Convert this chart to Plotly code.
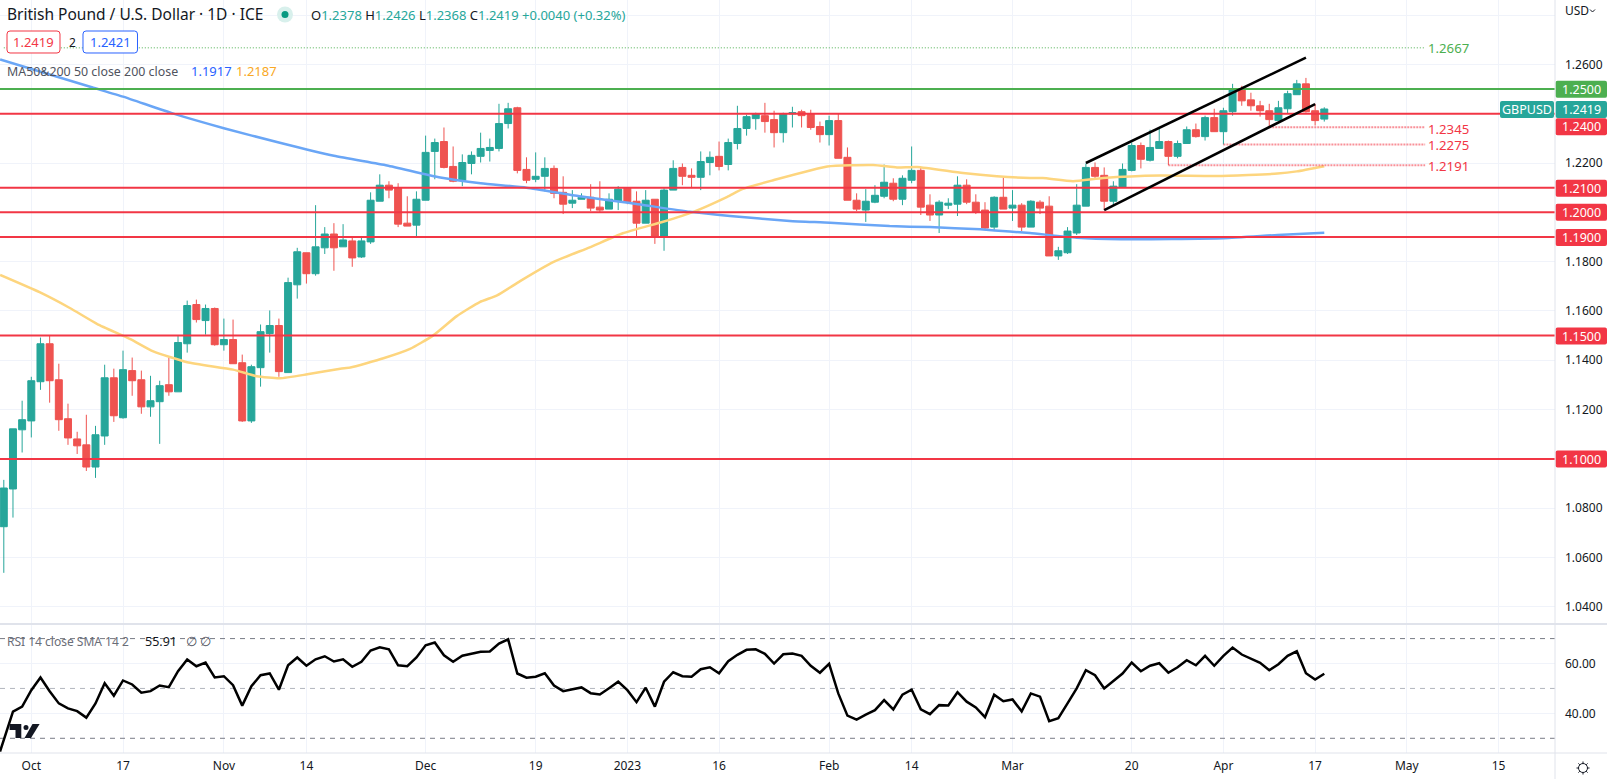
import math
import plotly.graph_objects as go

# ---------- data ----------
opens = [1.0725,1.0878,1.1118,1.1154,1.1313,1.1467,1.1321,1.1163,1.1081,1.1057,
1.0967,1.1093,1.1329,1.1167,1.1358,1.1321,1.1211,1.1232,1.1301,1.1272,
1.1467,1.1626,1.1561,1.1610,1.1463,1.1484,1.1390,1.1154,1.1370,1.1508,
1.1541,1.1350,1.1706,1.1836,1.1751,1.1856,1.1912,1.1860,1.1884,1.1819,
1.1880,1.2045,1.2110,1.2098,1.1956,1.1948,1.2049,1.2247,1.2287,1.2186,
1.2130,1.2198,1.2227,1.2251,1.2259,1.2360,1.2424,1.2174,1.2134,1.2146,
1.2178,1.2081,1.2037,1.2053,1.2061,1.2021,1.2013,1.2045,1.2098,1.2045,
1.1956,1.2053,1.1904,1.2090,1.2182,1.2150,1.2142,1.2202,1.2227,1.2194,
1.2279,1.2340,1.2380,1.2392,1.2376,1.2323,1.2399,1.2408,1.2400,1.2348,
1.2315,1.2372,1.2223,1.2049,1.2009,1.2041,1.2065,1.2118,1.2053,1.2130,
1.2170,1.2029,1.1989,1.2029,1.2033,1.2110,1.2041,1.2009,1.1940,1.2061,
1.2017,1.2029,1.1940,1.2041,1.2025,1.1823,1.1836,1.1916,1.2025,1.2182,
1.2150,1.2045,1.2102,1.2170,1.2271,1.2211,1.2259,1.2287,1.2227,1.2279,
1.2335,1.2307,1.2384,1.2327,1.2408,1.2497,1.2456,1.2432,1.2412,1.2372,
1.2420,1.2477,1.2521,1.2412,1.2378]
highs = [1.0915,1.1122,1.1236,1.1333,1.1492,1.1500,1.1386,1.1224,1.1110,1.1179,
1.1134,1.1382,1.1366,1.1439,1.1411,1.1358,1.1337,1.1317,1.1411,1.1500,
1.1642,1.1646,1.1626,1.1614,1.1569,1.1565,1.1423,1.1382,1.1545,1.1602,
1.1569,1.1735,1.1856,1.1836,1.2029,1.1940,1.1956,1.1952,1.1896,1.1904,
1.2081,1.2154,1.2126,1.2118,1.2065,1.2085,1.2311,1.2299,1.2344,1.2267,
1.2235,1.2247,1.2323,1.2299,1.2440,1.2444,1.2428,1.2223,1.2243,1.2223,
1.2190,1.2146,1.2090,1.2077,1.2114,1.2126,1.2077,1.2106,1.2100,1.2085,
1.2090,1.2053,1.2098,1.2211,1.2198,1.2178,1.2247,1.2247,1.2287,1.2299,
1.2432,1.2396,1.2404,1.2444,1.2412,1.2404,1.2428,1.2416,1.2416,1.2368,
1.2392,1.2400,1.2263,1.2077,1.2094,1.2110,1.2194,1.2138,1.2150,1.2267,
1.2182,1.2073,1.2049,1.2057,1.2146,1.2134,1.2073,1.2041,1.2065,1.2142,
1.2090,1.2037,1.2049,1.2049,1.2065,1.1860,1.1940,1.2114,1.2198,1.2202,
1.2182,1.2126,1.2198,1.2283,1.2283,1.2335,1.2344,1.2291,1.2291,1.2348,
1.2360,1.2392,1.2420,1.2424,1.2521,1.2513,1.2485,1.2452,1.2440,1.2452,
1.2493,1.2537,1.2545,1.2440,1.2426]
lows = [1.0538,1.0762,1.1026,1.1087,1.1280,1.1228,1.1114,1.1057,1.1020,1.0951,
1.0923,1.1057,1.1150,1.1163,1.1256,1.1183,1.1171,1.1061,1.1256,1.1272,
1.1431,1.1553,1.1504,1.1459,1.1439,1.1386,1.1150,1.1146,1.1293,1.1431,
1.1333,1.1350,1.1650,1.1711,1.1743,1.1831,1.1763,1.1860,1.1779,1.1815,
1.1872,1.2045,1.2057,1.1940,1.1944,1.1900,1.2049,1.2134,1.2178,1.2122,
1.2106,1.2154,1.2202,1.2206,1.2247,1.2340,1.2158,1.2118,1.2122,1.2085,
1.2057,1.1993,1.2017,1.2053,1.2005,1.2001,1.2013,1.2009,1.2033,1.1900,
1.1956,1.1872,1.1844,1.2090,1.2110,1.2098,1.2090,1.2150,1.2170,1.2170,
1.2255,1.2311,1.2335,1.2323,1.2263,1.2283,1.2344,1.2344,1.2335,1.2283,
1.2271,1.2219,1.2049,1.2005,1.1961,1.2037,1.2057,1.2045,1.2029,1.2118,
1.1989,1.1965,1.1916,1.2013,1.1985,1.2033,1.1993,1.1928,1.1924,1.2013,
1.1965,1.1924,1.1940,1.1993,1.1823,1.1807,1.1831,1.1908,1.2025,1.2134,
1.2009,1.2029,1.2102,1.2166,1.2178,1.2206,1.2259,1.2191,1.2219,1.2279,
1.2303,1.2291,1.2327,1.2275,1.2392,1.2432,1.2412,1.2388,1.2345,1.2372,
1.2399,1.2477,1.2404,1.2352,1.2368]
closes = [1.0882,1.1122,1.1159,1.1317,1.1467,1.1317,1.1159,1.1085,1.1053,1.0967,
1.1098,1.1329,1.1175,1.1362,1.1317,1.1211,1.1236,1.1297,1.1272,1.1472,
1.1622,1.1565,1.1610,1.1463,1.1484,1.1386,1.1154,1.1374,1.1516,1.1541,
1.1354,1.1715,1.1840,1.1751,1.1860,1.1912,1.1856,1.1888,1.1815,1.1884,
1.2049,1.2110,1.2090,1.1952,1.1944,1.2053,1.2243,1.2283,1.2182,1.2126,
1.2202,1.2231,1.2259,1.2263,1.2360,1.2420,1.2170,1.2130,1.2146,1.2178,
1.2077,1.2033,1.2049,1.2061,1.2017,1.2009,1.2053,1.2094,1.2041,1.1956,
1.2049,1.1904,1.2090,1.2178,1.2146,1.2142,1.2206,1.2223,1.2186,1.2283,
1.2340,1.2388,1.2400,1.2368,1.2323,1.2400,1.2404,1.2392,1.2344,1.2315,
1.2372,1.2219,1.2049,1.2013,1.2045,1.2069,1.2122,1.2053,1.2138,1.2170,
1.2021,1.1989,1.2041,1.2037,1.2110,1.2041,1.2001,1.1936,1.2061,1.2013,
1.2029,1.1940,1.2045,1.2017,1.1823,1.1844,1.1924,1.2029,1.2182,1.2146,
1.2045,1.2106,1.2174,1.2271,1.2215,1.2263,1.2287,1.2227,1.2279,1.2335,
1.2307,1.2384,1.2327,1.2412,1.2497,1.2452,1.2432,1.2412,1.2376,1.2424,
1.2481,1.2521,1.2408,1.2372,1.2419]
rsi = [29.3,40.7,42.7,49.3,54.4,48.9,44.0,42.0,40.9,38.3,44.0,52.1,47.1,53.2,51.6,48.3,48.9,51.2,50.5,56.9,
61.6,58.9,60.4,54.4,54.9,51.3,43.1,50.9,55.3,56.0,49.5,59.3,62.4,59.1,61.7,62.9,60.8,61.7,58.7,60.7,
65.2,66.5,65.7,59.3,58.9,62.4,67.3,68.4,63.3,60.7,63.1,64.0,64.7,64.8,68.0,69.7,56.0,54.3,54.7,56.1,
51.2,48.9,49.6,50.4,48.1,47.6,50.1,52.7,49.3,44.5,50.3,42.7,52.7,56.5,54.9,54.7,57.7,58.5,56.1,60.9,
63.5,65.5,65.7,63.9,60.0,63.7,64.0,63.1,59.1,56.3,59.9,48.0,39.1,37.5,39.5,41.3,45.3,41.6,47.5,49.5,
41.6,39.7,43.3,43.2,48.5,44.7,42.4,38.5,47.5,44.9,45.6,40.8,48.0,46.7,36.9,38.1,44.0,50.0,57.3,55.3,
50.0,53.1,56.0,60.4,56.9,59.1,60.1,56.3,58.5,61.3,59.3,63.1,59.1,63.1,66.4,63.6,62.0,60.3,57.3,59.7,
63.1,64.9,56.1,53.6,55.91]
rsi_before_first = 24.7

ma50_pos = [-0.4,3.9,7.2,10.2,13.8,16.3,20,25,27.6,30.1,33.1,36.7,37.8,41.4,44.3,46.8,49.4,51.9,53.8,56.3,59.9,63.9,67.5,71.9,75.2,78.9,80.6,83.9,89.8,94.8,97.4,99.6,104.6,108.3,111.9,113.3,116.6,119.9,126.1,132.3,138.9,141,144]
ma50_val = [1.1746,1.1676,1.1612,1.1547,1.1486,1.1436,1.1392,1.1362,1.1335,1.1327,1.1343,1.1366,1.1371,1.1408,1.1446,1.1500,1.1579,1.1636,1.1663,1.1721,1.1798,1.1858,1.1915,1.1962,1.2002,1.2063,1.2095,1.2130,1.2186,1.2192,1.2182,1.2184,1.2159,1.2146,1.2139,1.2139,1.2126,1.2139,1.2149,1.2147,1.2157,1.2166,1.2187]
ma200_pos = [-0.4,9.6,13,18.5,24,30.1,36,41.8,47.6,52,57,62.8,68.3,74.8,79.2,85.7,90.1,96.6,101,106.5,109.7,111.9,117,121.8,133,138.9,144]
ma200_val = [1.2620,1.2507,1.2469,1.2400,1.2341,1.2282,1.2229,1.2190,1.2141,1.2118,1.2100,1.2065,1.2038,1.2002,1.1985,1.1965,1.1958,1.1944,1.1940,1.1931,1.1922,1.1916,1.1897,1.1891,1.1895,1.1908,1.1917]

red_levels = [1.24,1.21,1.20,1.19,1.15,1.10]
green_level = 1.25
dotted_levels = [1.2667,1.2345,1.2275,1.2191]
dotted_start = [0,138,133,127]
dotted_end = 155
channel_upper_x = [118,142]
channel_upper_y = [1.2200,1.2627]
channel_lower_x = [120,143]
channel_lower_y = [1.2009,1.2439]

time_tick_pos = [3,13,24,33,46,58,68,78,90,99,110,123,133,143,153,163]
time_tick_txt = ["Oct","17","Nov","14","Dec","19","2023","16","Feb","14","Mar","20","Apr","17","May","15"]
price_grid = [1.04,1.06,1.08,1.10,1.12,1.14,1.16,1.18,1.20,1.22,1.24,1.26,1.28]
price_labels = [1.04,1.06,1.08,1.12,1.14,1.16,1.18,1.22,1.26]
rsi_labels = [40,60]
rsi_dashes = [70,50,30]

# ---------- geometry ----------
W,H = 1607,779
PW,PH = 1555,753
PANE = 624
XR = [-0.414,169.16]
YR = [1.0332,1.2861]
RR = [24.1,75.7]
FONT = "Noto Sans"
DARK = "#131722"
GRID = "#f0f3fa"
BORDER = "#e0e3eb"
RED = "#f23645"
GREEN = "#4caf50"
TEAL = "#26a69a"

ax = lambda p: p/PW
ay = lambda p: 1-p/PH

def rrect(x0,y0,x1,y1,r=2):
    xs = lambda v: f"{ax(v):.6f}"
    ys = lambda v: f"{ay(v):.6f}"
    return (f"M{xs(x0+r)},{ys(y0)} L{xs(x1-r)},{ys(y0)} Q{xs(x1)},{ys(y0)} {xs(x1)},{ys(y0+r)} "
            f"L{xs(x1)},{ys(y1-r)} Q{xs(x1)},{ys(y1)} {xs(x1-r)},{ys(y1)} L{xs(x0+r)},{ys(y1)} "
            f"Q{xs(x0)},{ys(y1)} {xs(x0)},{ys(y1-r)} L{xs(x0)},{ys(y0+r)} Q{xs(x0)},{ys(y0)} {xs(x0+r)},{ys(y0)} Z")

shapes=[]; annos=[]
def box(x0,y0,x1,y1,fill,line=None,r=2,lw=1):
    shapes.append(dict(type="path",xref="paper",yref="paper",path=rrect(x0,y0,x1,y1,r),
        fillcolor=fill,line=dict(color=line or fill,width=lw if line else 0),layer="above"))
def seg(x0,y0,x1,y1,color,w=1):
    shapes.append(dict(type="line",xref="paper",yref="paper",x0=ax(x0),y0=ay(y0),x1=ax(x1),y1=ay(y1),
        line=dict(color=color,width=w),layer="above"))
def text(px,py,s,color=DARK,size=13,anchor="left",font=FONT):
    annos.append(dict(xref="paper",yref="paper",x=ax(px),y=ay(py),text=s,showarrow=False,
        xanchor=anchor,yanchor="middle",xshift=0,font=dict(family=font,size=size,color=color),borderpad=0,borderwidth=0))

# ---------- traces ----------
fig = go.Figure()
fig.add_trace(go.Candlestick(x=list(range(len(opens))),open=opens,high=highs,low=lows,close=closes,
    xaxis="x",yaxis="y",whiskerwidth=0,hoverinfo="skip",
    increasing=dict(line=dict(color=TEAL,width=1),fillcolor=TEAL),
    decreasing=dict(line=dict(color="#ef5350",width=1),fillcolor="#ef5350")))
fig.add_trace(go.Scatter(x=ma50_pos,y=ma50_val,mode="lines",line=dict(color="#fdd57e",width=2.5,shape="spline",smoothing=0.5),hoverinfo="skip"))
fig.add_trace(go.Scatter(x=ma200_pos,y=ma200_val,mode="lines",line=dict(color="#6aa6f6",width=2.5,shape="spline",smoothing=0.5),hoverinfo="skip"))
for lv in red_levels:
    fig.add_trace(go.Scatter(x=XR,y=[lv,lv],mode="lines",line=dict(color=RED,width=2),hoverinfo="skip"))
fig.add_trace(go.Scatter(x=XR,y=[green_level,green_level],mode="lines",line=dict(color=GREEN,width=2),hoverinfo="skip"))
for i,(lv,st) in enumerate(zip(dotted_levels,dotted_start)):
    if i==0:
        ln=dict(color=GREEN,width=1,dash="1px,2px")
    else:
        ln=dict(color="rgba(242,54,69,0.55)",width=2,dash="2px,1px")
    fig.add_trace(go.Scatter(x=[st,dotted_end],y=[lv,lv],mode="lines",line=ln,hoverinfo="skip"))
for xs,ys in ((channel_upper_x,channel_upper_y),(channel_lower_x,channel_lower_y)):
    fig.add_trace(go.Scatter(x=xs,y=ys,mode="lines",line=dict(color="#000000",width=2.5),hoverinfo="skip"))
# RSI pane
for lv in rsi_dashes:
    col = "#b2b5be" if lv==50 else "#787b86"
    fig.add_trace(go.Scatter(x=XR,y=[lv,lv],xaxis="x2",yaxis="y2",mode="lines",
        line=dict(color=col,width=1,dash="5px,5px"),hoverinfo="skip"))
fig.add_trace(go.Scatter(x=[XR[0]]+list(range(len(rsi))),y=[rsi_before_first]+rsi,xaxis="x2",yaxis="y2",mode="lines",
    line=dict(color="#000000",width=2.5),hoverinfo="skip"))

# ---------- header text ----------
text(7,14.5,"British Pound / U.S. Dollar · 1D · ICE",DARK,15.5)
shapes.append(dict(type="circle",xref="paper",yref="paper",x0=ax(277),x1=ax(293),y0=ay(6.5),y1=ay(22.5),
    fillcolor="#d8f0ec",line=dict(width=0),layer="above"))
shapes.append(dict(type="circle",xref="paper",yref="paper",x0=ax(281.5),x1=ax(288.5),y0=ay(11),y1=ay(18),
    fillcolor="#089981",line=dict(width=0),layer="above"))
t=lambda s:f'<span style="color:{TEAL}">{s}</span>'
text(311,15.5,"O"+t("1.2378")+" H"+t("1.2426")+" L"+t("1.2368")+" C"+t("1.2419")+" "+t("+0.0040 (+0.32%)"),DARK,13)
box(7,31,60,53,"#ffffff",RED,3,1)
text(33.5,42.5,"1.2419",RED,13,"center")
text(72,42.5,"2",DARK,12,"center")
box(83,31,137.5,53,"#ffffff","#2962ff",3,1)
text(110,42.5,"1.2421","#2962ff",13,"center")
text(7,71,"MA50&amp;200 50 close 200 close","#50535e",12.4)
text(191,71,"1.1917","#2962ff",13)
text(236,71,"1.2187","#f9a825",13)
text(7,641,"RSI 14 close SMA 14 2","#6a6d78",12)
text(145,641,"55.91",DARK,12.5)
text(186,641,"∅","#50535e",12.5)
text(200,641,"∅","#50535e",12.5)

# dotted level labels
text(1428,48,"1.2667",GREEN,13.2)
text(1428,129,"1.2345",RED,13.2)
text(1428,145,"1.2275",RED,13.2)
text(1428,166,"1.2191",RED,13.2)

# price tags
for lbl,py,c in (("1.2500",89.3,GREEN),("1.2400",126.7,RED),("1.2100",188.3,RED),("1.2000",212.3,RED),
                 ("1.1900",237.5,RED),("1.1500",336,RED),("1.1000",459,RED)):
    box(1555.5,py-8.5,1607,py+8.5,c)
    text(1581.5,py,lbl,"#ffffff",12.5,"center")
box(1500,101,1554,118,TEAL)
text(1527,109.5,"GBPUSD","#ffffff",12.5,"center")
box(1555.5,101,1607,118,TEAL)
text(1581.5,109.5,"1.2419","#ffffff",12.5,"center")

# USD selector
text(1565,10.5,"USD",DARK,12)
seg(1590,9.5,1592.5,12,DARK,1); seg(1592.5,12,1595,9.5,DARK,1)

# frame
seg(1555,0,1555,779,BORDER,1)
seg(0,PANE,1607,PANE,BORDER,2)
seg(0,PH,1607,PH,BORDER,1)

# watermark logo
shapes.append(dict(type="path",xref="paper",yref="paper",fillcolor=DARK,line=dict(width=0),layer="above",
    path=f"M{ax(9.6)},{ay(724)} L{ax(21.3)},{ay(724)} L{ax(21.3)},{ay(738)} L{ax(15.5)},{ay(738)} L{ax(15.5)},{ay(730)} L{ax(9.6)},{ay(730)} Z"))
shapes.append(dict(type="path",xref="paper",yref="paper",fillcolor=DARK,line=dict(width=0),layer="above",
    path=f"M{ax(32.5)},{ay(724)} L{ax(39.6)},{ay(724)} L{ax(31)},{ay(738)} L{ax(24.5)},{ay(738)} Z"))
shapes.append(dict(type="circle",xref="paper",yref="paper",x0=ax(23.5),x1=ax(28.5),y0=ay(725),y1=ay(730),
    fillcolor=DARK,line=dict(width=0),layer="above"))

# sun icon
cx,cy=1583,768
shapes.append(dict(type="circle",xref="paper",yref="paper",x0=ax(cx-4.5),x1=ax(cx+4.5),y0=ay(cy-4.5),y1=ay(cy+4.5),
    fillcolor="#ffffff",line=dict(color=DARK,width=1),layer="above"))
for k in range(8):
    a=k*math.pi/4
    seg(cx+4.5*math.cos(a),cy+4.5*math.sin(a),cx+6.5*math.cos(a),cy+6.5*math.sin(a),DARK,1)

# ---------- layout ----------
split = (PH-PANE)/PH
tickfont=dict(family=FONT,size=12,color=DARK)
fig.update_layout(
    width=W,height=H,margin=dict(l=0,r=W-PW,t=0,b=H-PH,autoexpand=False),
    paper_bgcolor="#ffffff",plot_bgcolor="#ffffff",showlegend=False,hovermode=False,
    boxgap=0.24,boxgroupgap=0,shapes=shapes,annotations=annos,
    xaxis=dict(domain=[0,1],range=XR,anchor="y",showticklabels=False,tickmode="array",tickvals=time_tick_pos,
        showgrid=True,gridcolor=GRID,gridwidth=1,zeroline=False,showline=False,ticks="",rangeslider=dict(visible=False),fixedrange=True),
    yaxis=dict(domain=[split+0.0005,1],range=YR,side="right",anchor="x",tickmode="array",tickvals=price_grid,
        ticktext=[f"{v:.4f}" if v in price_labels else "" for v in price_grid],
        showgrid=True,gridcolor=GRID,gridwidth=1,zeroline=False,showline=False,ticks="",tickfont=tickfont,ticklabelstandoff=9,fixedrange=True),
    xaxis2=dict(domain=[0,1],range=XR,anchor="y2",tickmode="array",tickvals=time_tick_pos,ticktext=time_tick_txt,
        showgrid=True,gridcolor=GRID,gridwidth=1,zeroline=False,showline=False,ticks="",tickfont=tickfont,ticklabelstandoff=4,fixedrange=True),
    yaxis2=dict(domain=[0,split-0.0005],range=RR,side="right",anchor="x2",tickmode="array",tickvals=rsi_labels,
        ticktext=[f"{v:.2f}" for v in rsi_labels],showgrid=True,gridcolor=GRID,gridwidth=1,zeroline=False,showline=False,
        ticks="",tickfont=tickfont,ticklabelstandoff=9,fixedrange=True),
)
fig.write_html("out.html",config={"displayModeBar":False},
    post_script="document.body.style.margin='0';document.body.style.overflow='hidden';")
